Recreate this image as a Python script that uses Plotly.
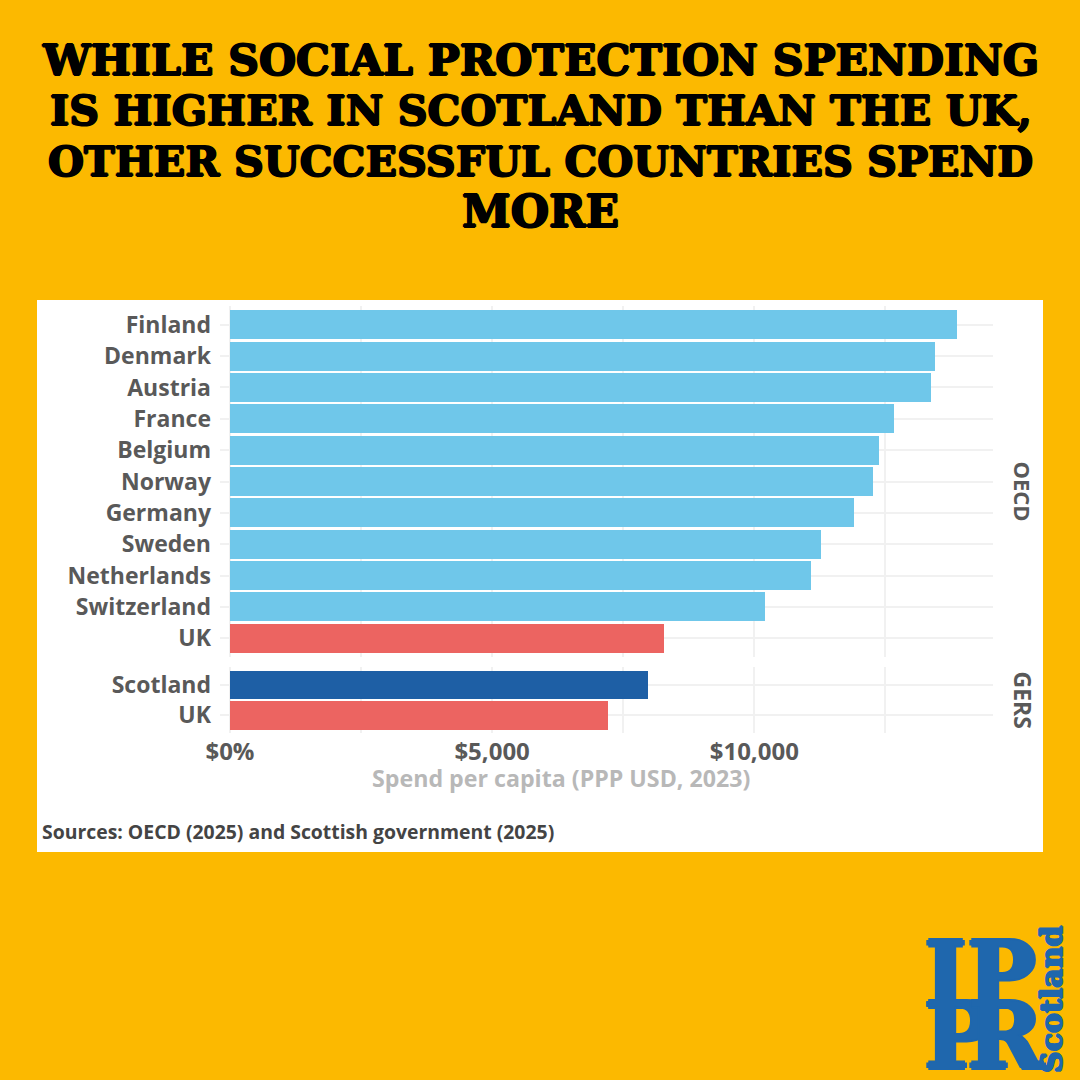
import plotly.graph_objects as go

oecd_countries = ["Finland", "Denmark", "Austria", "France", "Belgium", "Norway", "Germany",
                  "Sweden", "Netherlands", "Switzerland", "UK"]
oecd_values = [13875, 13446, 13370, 12664, 12388, 12264, 11911, 11272, 11091, 10204, 8278]
oecd_colors = ["#6FC7EA"] * 10 + ["#EC6461"]
gers_regions = ["Scotland", "UK"]
gers_values = [7973, 7219]
gers_colors = ["#1E5FA5", "#EC6461"]
title_lines = ["WHILE SOCIAL PROTECTION SPENDING", "IS HIGHER IN SCOTLAND THAN THE UK,",
               "OTHER SUCCESSFUL COUNTRIES SPEND", "MORE"]
tick_vals = [0, 5000, 10000]
tick_text = ["$0%", "$5,000", "$10,000"]

W = H = 1080.0
BG = "#FCB900"
GRID = "#F1F1F1"
SANS = "Open Sans"
SERIF = "DejaVu Serif"
LOGO = "#1F67AD"


def px(x):
    return x / W


def py(y):
    return 1 - y / H


fig = go.Figure()
fig.add_trace(go.Bar(y=oecd_countries, x=oecd_values, orientation="h", marker=dict(color=oecd_colors, line_width=0),
                     width=0.93, xaxis="x", yaxis="y", showlegend=False))
fig.add_trace(go.Bar(y=gers_regions, x=gers_values, orientation="h", marker=dict(color=gers_colors, line_width=0),
                     width=0.95, xaxis="x2", yaxis="y2", showlegend=False))

x_range = [-190, 14553]
x_dom = [px(220), px(993)]
grid = dict(showgrid=True, gridcolor=GRID, gridwidth=2, zeroline=False, showline=False, ticks="", automargin=False)
minor = dict(dtick=2500, tick0=0, showgrid=True, gridcolor=GRID, gridwidth=1.5, ticks="")

annotations = []


def text(x, y, s, size, color, family=SANS, angle=0, xanchor="center", shadow=None):
    f = dict(family=family, size=size, color=color)
    if shadow:
        f["shadow"] = shadow
    annotations.append(dict(x=px(x), y=py(y), xref="paper", yref="paper", text=f"<b>{s}</b>",
                            showarrow=False, xanchor=xanchor, yanchor="middle", textangle=angle,
                            font=f))


def stroke(c, w=1):
    return f"{w}px 0 0 {c}, -{w}px 0 0 {c}, 0 {w}px 0 {c}, 0 -{w}px 0 {c}"


heavy = stroke("#000")
for s, y, size, cx in zip(title_lines, [60, 111, 161, 211], [42.6, 41.3, 41.3, 44], [540, 541, 540, 540]):
    text(cx, y, s, size, "#000000", SERIF, shadow=heavy)
text(561, 778, "Spend per capita (PPP USD, 2023)", 23.2, "#B8B8B8")
text(40, 831, "Sources: OECD (2025) and Scottish government (2025)", 19.4, "#444444", xanchor="left")
text(1022.5, 491, "OECD", 22, "#595959", angle=90)
text(1022.5, 700, "GERS", 23, "#595959", angle=90)

# logo wordmark, overlapped serif letters
logo_stroke = stroke(LOGO, 2)
text(945, 975, "I", 92, LOGO, SERIF, shadow=logo_stroke)
text(1001, 975, "P", 92, LOGO, SERIF, shadow=logo_stroke)
text(958, 1036, "P", 92, LOGO, SERIF, shadow=logo_stroke)
text(1005, 1036, "R", 92, LOGO, SERIF, shadow=logo_stroke)
text(1051, 1000, "Scotland", 30, LOGO, SERIF, angle=-90, shadow=stroke(LOGO, 1))

fig.update_layout(
    width=1080, height=1080, margin=dict(l=0, r=0, t=0, b=0, pad=0, autoexpand=False), autosize=False,
    paper_bgcolor=BG, plot_bgcolor="rgba(0,0,0,0)", bargap=0, barmode="overlay",
    shapes=[dict(type="rect", xref="paper", yref="paper", x0=px(37), x1=px(1043), y0=py(300), y1=py(852),
                 fillcolor="#FFFFFF", line_width=0, layer="below")],
    annotations=annotations,
    xaxis=dict(domain=x_dom, range=x_range, anchor="y", showticklabels=False, minor=minor,
               tickvals=tick_vals, **grid),
    xaxis2=dict(domain=x_dom, range=x_range, anchor="y2", tickvals=tick_vals, ticktext=tick_text, minor=minor,
                ticklabelstandoff=2, tickfont=dict(family=SANS, size=24, color="#595959", weight="bold"), **grid),
    yaxis=dict(domain=[py(657), py(306)], type="category", categoryorder="array", categoryarray=oecd_countries,
               range=[10.6, -0.6], anchor="x", ticklabelstandoff=8,
               tickfont=dict(family=SANS, size=23, color="#595959", weight="bold"), **grid),
    yaxis2=dict(domain=[py(733), py(666.5)], type="category", categoryorder="array", categoryarray=gers_regions,
                range=[1.6, -0.6], anchor="x2", ticklabelstandoff=8,
                tickfont=dict(family=SANS, size=23, color="#595959", weight="bold"), **grid),
)
fig.write_html("out.html", config={"displayModeBar": False},
               post_script="document.body.style.margin='0';document.documentElement.style.background='#FCB900';")
